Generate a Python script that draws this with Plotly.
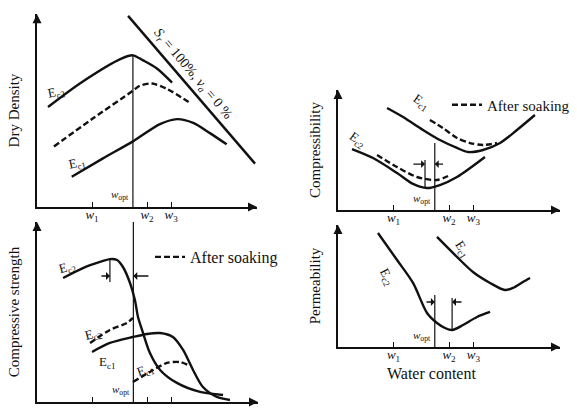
import plotly.graph_objects as go

# ---------------- data (normalized units: water content 0-100, property 0-100) -------------
W_TICKS = [25, 50, 61]
W_TICK_LABELS = ["<i>w</i><sub>1</sub>", "<i>w</i><sub>2</sub>", "<i>w</i><sub>3</sub>"]
W_OPT = 43.6

# Dry density panel
dd_ec2_x = [5, 20, 38.6, 43.6, 48.2, 54.5, 61.4]
dd_ec2_y = [53.5, 66.5, 79.5, 81.1, 78.4, 74.1, 66.5]
dd_soak_x = [7.7, 25, 43.6, 46.8, 52.3, 59, 69.5]
dd_soak_y = [32.4, 47, 62.2, 64.9, 66, 63.2, 55.7]
dd_ec1_x = [15.8, 30, 43.6, 55.9, 63.6, 71, 78.6, 86.2]
dd_ec1_y = [16.2, 26, 35.1, 44.3, 47, 45, 39.5, 33.5]
sat_x = [41.4, 99.1]
sat_y = [102.2, 23.2]

# Compressive strength panel
cs_ec2_x = [11.8, 20.8, 28.5, 33, 36.2, 38.9, 42.1, 44.3, 45.7, 48, 51.1, 55.7, 63.3, 73.8, 84.2]
cs_ec2_y = [68.9, 74.4, 77.8, 79.4, 78.9, 75, 66.1, 56.7, 47.2, 38.3, 27.2, 17.8, 10.6, 5.6, 3.9]
cs_ec2s_x = [24, 33, 40.7, 43.4]
cs_ec2s_y = [32.8, 40, 43.9, 46.7]
cs_ec1_x = [24.9, 33, 43.4, 49.8, 55.7, 61.5, 66.1, 70.6, 75.1, 81.4, 87.3]
cs_ec1_y = [27.8, 32.8, 36.1, 37.8, 38.3, 36.1, 28.9, 17.8, 8.3, 2.8, 1.1]
cs_ec1s_x = [43.4, 51.1, 58.8, 64.7, 68.3]
cs_ec1s_y = [11.1, 16.7, 21.7, 22.2, 20.6]
CS_PEAK_W = 33

# Compressibility panel
cp_ec1_x = [22.1, 29.3, 38.3, 45.9, 53.6, 58.6, 65.3, 73, 80.6, 88.7]
cp_ec1_y = [85, 77.5, 66.7, 58.3, 51.7, 48.3, 50, 55.8, 66.7, 79.2]
cp_ec1s_x = [41.4, 47.3, 53.6, 59.5, 65.3, 71.6]
cp_ec1s_y = [75, 68.3, 60, 55.8, 54.2, 55.8]
cp_ec2_x = [6.3, 15.8, 26.6, 33.8, 40.1, 45.9, 53.6, 66.2]
cp_ec2_y = [50.8, 43.3, 30.8, 21.7, 18.3, 20.8, 27.5, 44.2]
cp_ec2s_x = [17.6, 26.6, 35.6, 44.6, 50.5]
cp_ec2s_y = [45.8, 35.8, 27.5, 25, 29.2]
CP_MIN_W = 39.2

# Permeability panel
pm_ec2_x = [18, 26.6, 33.8, 40.1, 44.6, 48.2, 51.4, 56.3, 62.6, 68.5]
pm_ec2_y = [93.4, 71.3, 52.5, 27.9, 19.7, 15.6, 13.9, 18, 24.6, 28.7]
pm_ec1_x = [44.6, 53.6, 60.8, 68.5, 75.2, 78.8, 83.3, 86.5]
pm_ec1_y = [90.2, 73.8, 61.5, 52.5, 46.7, 48.4, 53.3, 56.6]
PM_MIN_W = 51.4

SERIF = "Liberation Serif"
BLACK = "#111"

fig = go.Figure()

def line(x, y, ax, dash=None, width=2.4, name=None, legend=None, shape="spline"):
    fig.add_trace(go.Scatter(
        x=x, y=y, mode="lines", xaxis="x" + ax, yaxis="y" + ax,
        line=dict(color=BLACK, width=width, dash=dash, shape=shape, smoothing=0.8),
        name=name, showlegend=legend is not None, legend=legend or "legend",
        hoverinfo="skip"))

# --- dry density (axes '' -> x/y)
line(dd_ec2_x, dd_ec2_y, "")
line(dd_soak_x, dd_soak_y, "", dash="6px,3px")
line(dd_ec1_x, dd_ec1_y, "")
line(sat_x, sat_y, "", shape="linear")
line([W_OPT, W_OPT], [0, max(dd_ec2_y)], "", width=1.2, shape="linear")

# --- compressive strength (x2/y2)
line(cs_ec2_x, cs_ec2_y, "2")
line(cs_ec2s_x, cs_ec2s_y, "2", dash="6px,3px", name="After soaking", legend="legend")
line(cs_ec1_x, cs_ec1_y, "2")
line(cs_ec1s_x, cs_ec1s_y, "2", dash="6px,3px")
line([W_OPT, W_OPT], [0, 100], "2", width=1.2, shape="linear")
line([CS_PEAK_W, CS_PEAK_W], [max(cs_ec2_y), 66.7], "2", width=1.2, shape="linear")

# --- compressibility (x3/y3)
line(cp_ec1_x, cp_ec1_y, "3")
line(cp_ec1s_x, cp_ec1s_y, "3", dash="6px,3px", name="After soaking", legend="legend2")
line(cp_ec2_x, cp_ec2_y, "3")
line(cp_ec2s_x, cp_ec2s_y, "3", dash="6px,3px")
line([W_OPT, W_OPT], [0, 55.8], "3", width=1.2, shape="linear")
line([CP_MIN_W, CP_MIN_W], [min(cp_ec2_y), 41.7], "3", width=1.2, shape="linear")

# --- permeability (x4/y4)
line(pm_ec2_x, pm_ec2_y, "4")
line(pm_ec1_x, pm_ec1_y, "4")
line([W_OPT, W_OPT], [0, 42.6], "4", width=1.2, shape="linear")
line([PM_MIN_W, PM_MIN_W], [min(pm_ec2_y), 40.2], "4", width=1.2, shape="linear")

Wd, Hd = 577, 408
dom = {
    "": ([37, 257], [207, 14], [0, 103.2]),
    "2": ([37, 258], [402, 222], [0, 100]),
    "3": ([338, 560], [210, 90], [0, 100]),
    "4": ([338, 560], [347, 225], [0, 100]),
}
ytitles = {"": "Dry Density", "2": "Compressive strength", "3": "Compressibility", "4": "Permeability"}

layout = dict(
    width=Wd, height=Hd, margin=dict(l=0, r=0, t=0, b=0, autoexpand=False),
    paper_bgcolor="white", plot_bgcolor="white",
    font=dict(family=SERIF, color=BLACK, size=13),
    showlegend=True,
)
for k, (xs, ys, yr) in dom.items():
    xa = dict(domain=[xs[0] / Wd, xs[1] / Wd], range=[0, 100], showgrid=False, zeroline=False,
              showline=True, linecolor=BLACK, linewidth=1.5, ticks="inside", ticklen=5,
              tickwidth=1.3, tickcolor=BLACK, tickvals=W_TICKS, ticktext=W_TICK_LABELS,
              tickfont=dict(family=SERIF, size=13), anchor="y" + k, fixedrange=True,
              automargin=False, ticklabelstandoff=-5)
    ya = dict(domain=[1 - ys[0] / Hd, 1 - ys[1] / Hd], range=yr, showgrid=False, zeroline=False,
              showline=True, linecolor=BLACK, linewidth=1.5, showticklabels=False, ticks="",
              anchor="x" + k, fixedrange=True, automargin=False,
              title=dict(text=ytitles[k], standoff=12, font=dict(family=SERIF, size=15)))
    layout["xaxis" + k] = xa
    layout["yaxis" + k] = ya

layout["legend"] = dict(x=150 / Wd, y=1 - 257 / Hd, xanchor="left", yanchor="middle",
                        bgcolor="rgba(0,0,0,0)", itemwidth=30,
                        font=dict(family=SERIF, size=16))
layout["legend2"] = dict(x=447 / Wd, y=1 - 105 / Hd, xanchor="left", yanchor="middle",
                         bgcolor="rgba(0,0,0,0)", itemwidth=30,
                         font=dict(family=SERIF, size=15))

ann = []

def text(k, x, y, t, size=13, angle=0, xanchor="center", yanchor="middle"):
    ann.append(dict(xref="x" + k, yref="y" + k, x=x, y=y, text=t, showarrow=False,
                    textangle=angle, xanchor=xanchor, yanchor=yanchor,
                    font=dict(family=SERIF, size=size, color=BLACK)))

def arrow(k, x, y, ax, ay, head=2, size=1, width=1.3):
    ann.append(dict(xref="x" + k, yref="y" + k, x=x, y=y, ax=ax, ay=ay,
                    axref="x" + k, ayref="y" + k, text="", showarrow=True,
                    arrowhead=head, arrowsize=size, arrowwidth=width, arrowcolor=BLACK))

# axis arrowheads
for k, (xs, ys, yr) in dom.items():
    top = 100 if k != "" else 103
    arrow(k, 100, 0, 96, 0, head=2, size=1.2, width=1.5)
    arrow(k, 0, top, 0, top - 5, head=2, size=1.2, width=1.5)

E2 = "E<sub>c2</sub>"
E1 = "E<sub>c1</sub>"
WOPT = "<i>w</i><sub>opt</sub>"

# dry density labels
text("", 8.8, 61, E2, angle=-12)
text("", 18.5, 23, E1, angle=-12)
text("", 71, 71, "<i>S</i><sub><i>r</i></sub> = 100%, <i>v</i><sub><i>a</i></sub> = 0 %", size=14, angle=50)
text("", W_OPT - 0.8, 1.5, WOPT, size=11, xanchor="right", yanchor="bottom")

# compressive strength labels
text("2", 14, 75, E2, angle=-15)
text("2", 25.5, 37.5, E2, angle=-15)
text("2", 32, 22, E1)
text("2", 49, 17.5, E1, angle=-20)
text("2", W_OPT - 0.8, 1.5, WOPT, size=11, xanchor="right", yanchor="bottom")
arrow("2", CS_PEAK_W, 70, 28.5, 70, head=1)
arrow("2", W_OPT, 70, 51.1, 70, head=1)

# compressibility labels
text("3", 37.5, 90, E1, angle=35)
text("3", 9, 58, E2, angle=35)
text("3", W_OPT - 0.8, 1.5, WOPT, size=11, xanchor="right", yanchor="bottom")
arrow("3", CP_MIN_W, 38.3, 33.3, 38.3, head=1)
arrow("3", W_OPT, 38.3, 48, 38.3, head=1)

# permeability labels
text("4", 22, 57, E2, angle=62)
text("4", 56, 80, E1, angle=58)
text("4", W_OPT - 0.8, 1.5, WOPT, size=11, xanchor="right", yanchor="bottom")
arrow("4", W_OPT, 36.9, 39.2, 36.9, head=1)
arrow("4", PM_MIN_W, 36.9, 56.3, 36.9, head=1)

ann.append(dict(xref="paper", yref="paper", x=431 / Wd, y=1 - 373 / Hd, text="Water content",
                xanchor="center", yanchor="middle",
                showarrow=False, font=dict(family=SERIF, size=16, color=BLACK)))

layout["annotations"] = ann
fig.update_layout(**layout)
fig.write_html("out.html", config={"displayModeBar": False},
               post_script="document.body.style.margin='0';")
